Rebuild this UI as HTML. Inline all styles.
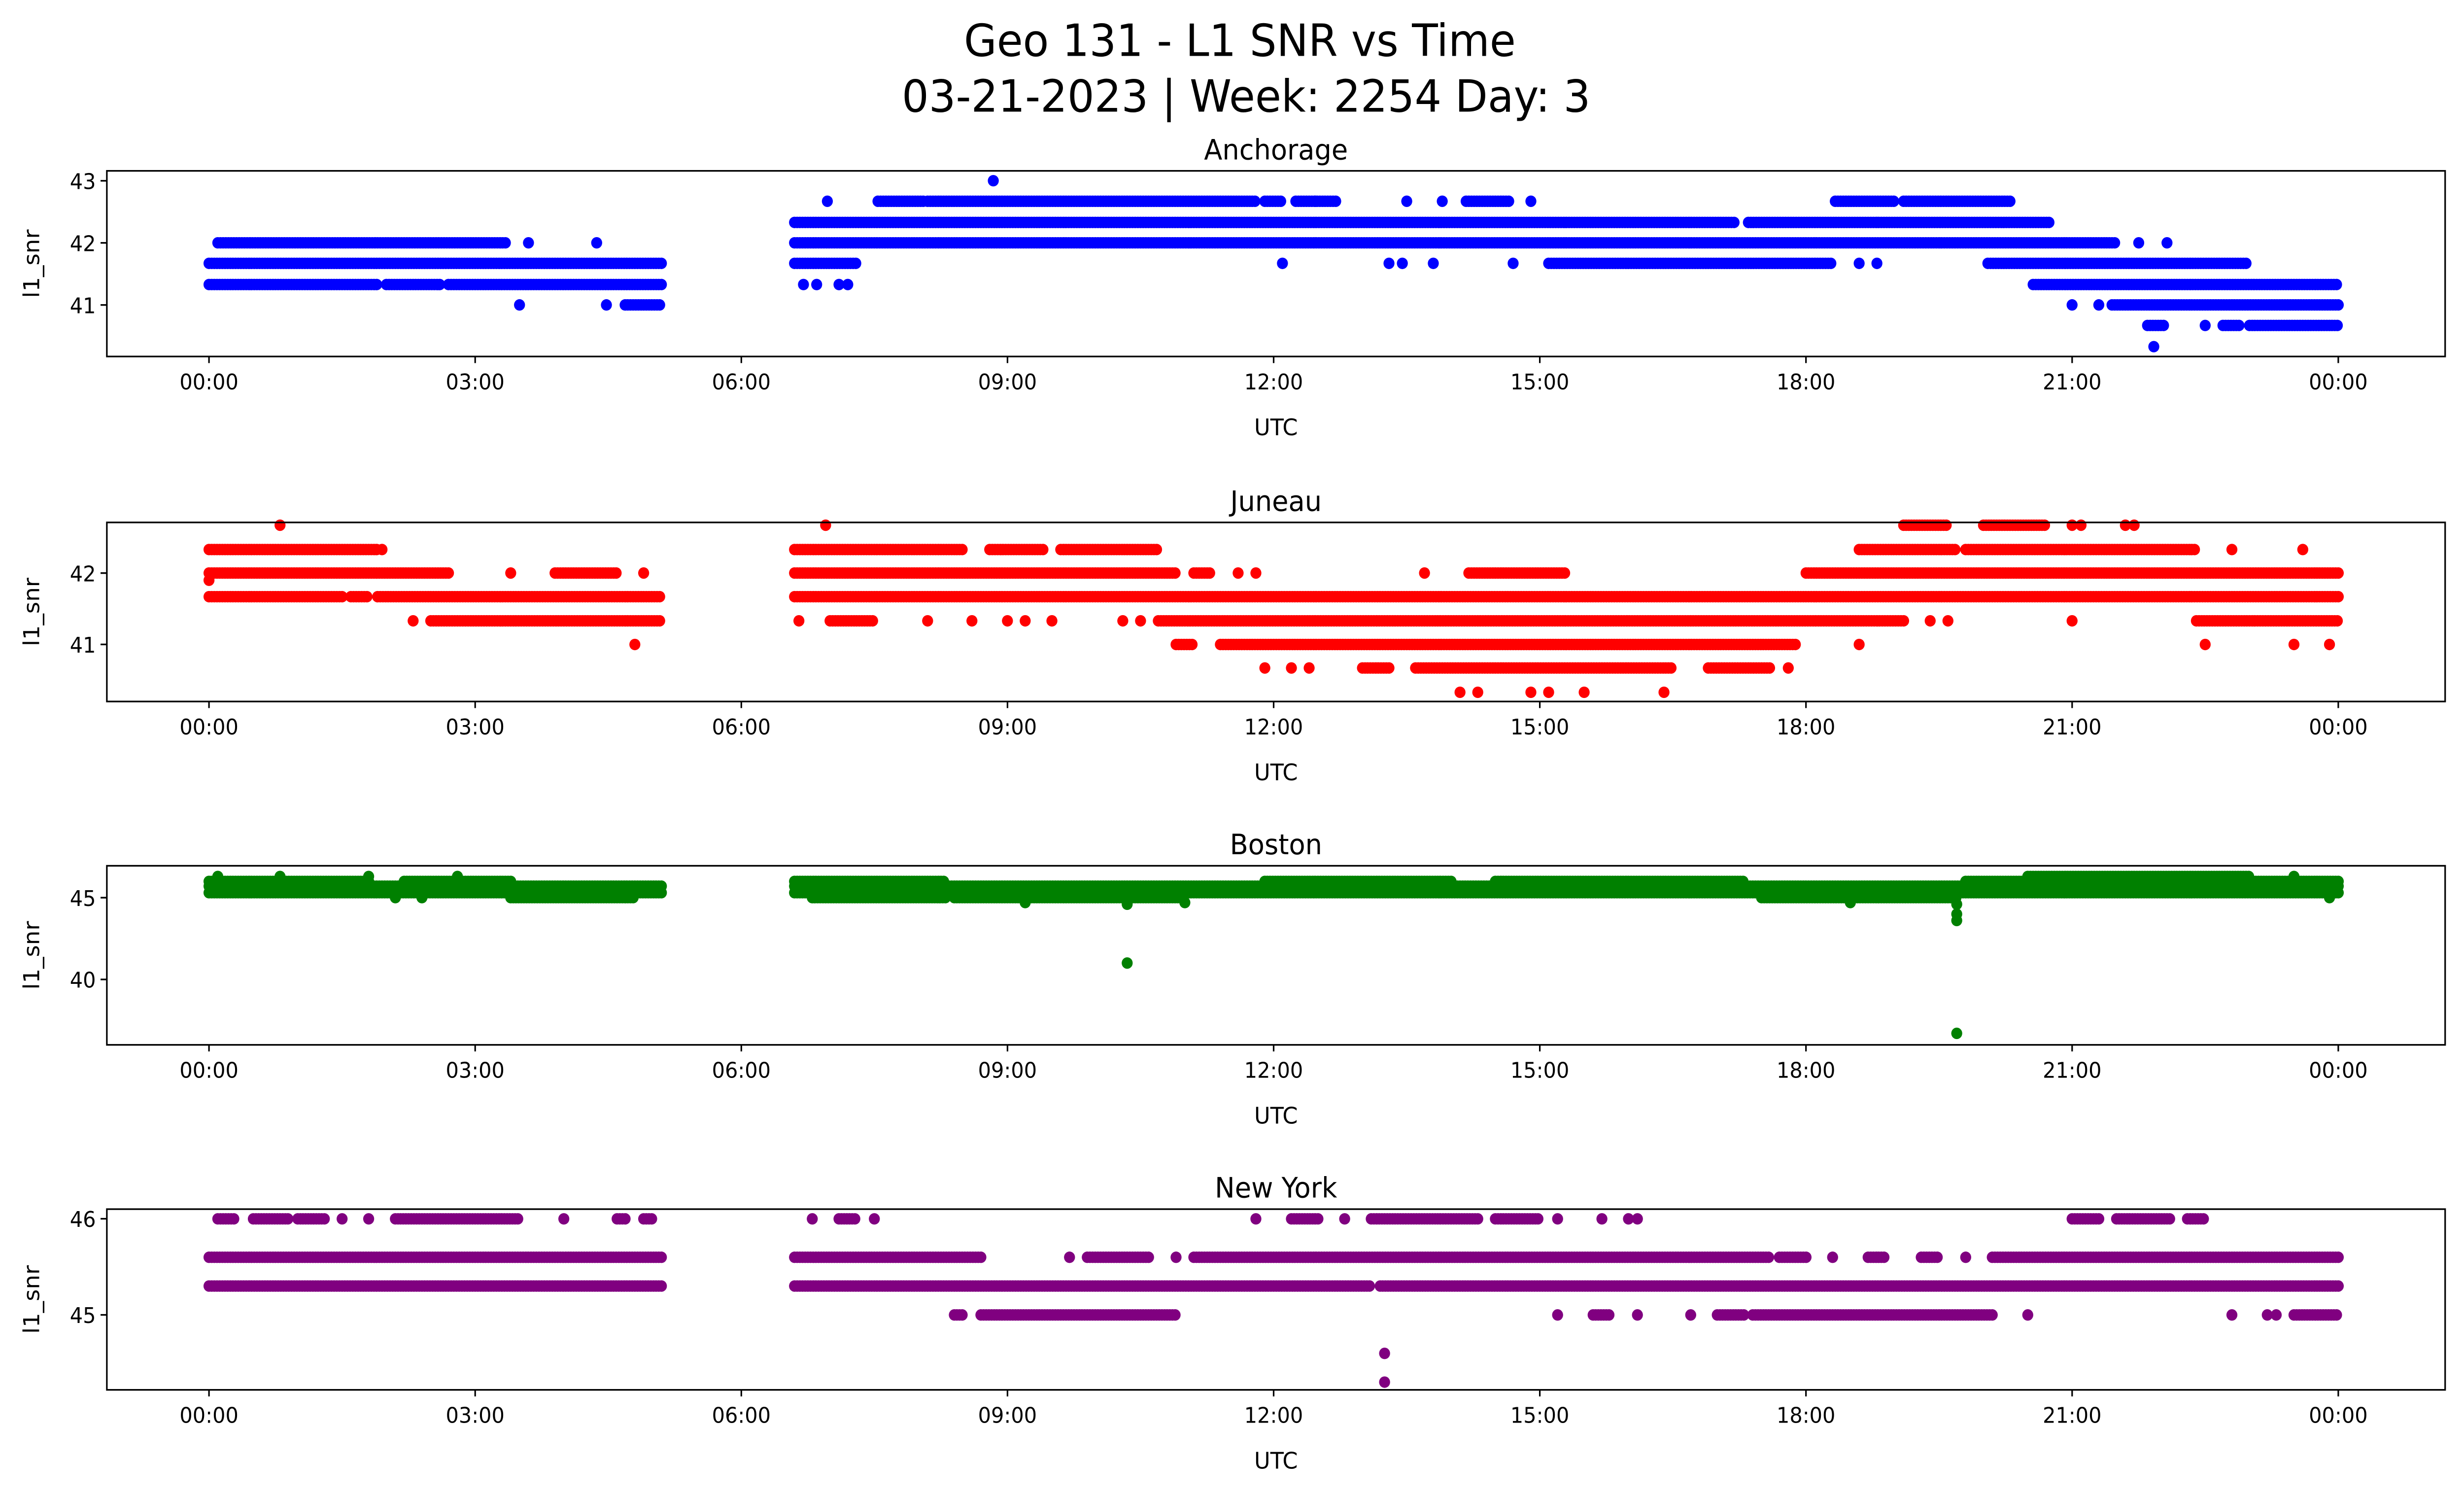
<!DOCTYPE html>
<html><head><meta charset="utf-8"><style>
html,body{margin:0;padding:0;background:#fff;overflow:hidden;width:100%;height:100%;}
svg{display:block;width:100vw;height:100vh;}
text{font-family:"DejaVu Sans","Liberation Sans",sans-serif;fill:#000;}
</style></head><body>
<svg id="fig" xmlns="http://www.w3.org/2000/svg" viewBox="0 0 1568 910" preserveAspectRatio="none">
<rect x="0" y="0" width="1568" height="910" fill="#fff"/>
<text x="789" y="34" font-size="27" text-anchor="middle">Geo 131 - L1 SNR vs Time</text>
<text x="793" y="68" font-size="27" text-anchor="middle">03-21-2023 | Week: 2254 Day: 3</text>
<g id="plots"></g>
</svg>
<script>
// ---------- data (hours UTC, SNR) ----------
const hourTicks = [0,3,6,9,12,15,18,21,24];
const hourTickLabels = ["00:00","03:00","06:00","09:00","12:00","15:00","18:00","21:00","00:00"];
const panelTitles = ["Anchorage","Juneau","Boston","New York"];
const panelColors = ["#0000ff","#ff0000","#008000","#800080"];
const anchorageYTicks = [41,42,43];
const juneauYTicks = [41,42];
const bostonYTicks = [40,45];
const newYorkYTicks = [45,46];
// ranges: [snr, startHour, endHour] of densely sampled points
const anchorageRanges = [
 [42.0,0.1,3.35],[42.0,6.6,21.5],
 [42.33,6.6,17.2],[42.33,17.35,20.75],
 [42.67,7.54,8.07],[42.67,8.1,8.4],[42.67,8.43,11.8],[42.67,11.9,12.1],[42.67,12.25,12.7],[42.67,14.17,14.67],[42.67,18.33,19.0],[42.67,19.1,20.32],
 [41.67,0,5.1],[41.67,6.6,7.3],[41.67,15.1,18.3],[41.67,20.05,22.97],
 [41.33,0,1.9],[41.33,2.0,2.6],[41.33,2.7,5.1],[41.33,20.56,24],
 [41.0,4.69,5.1],[41.0,21.45,24],
 [40.67,21.85,22.05],[40.67,22.7,22.9],[40.67,23.0,24]
];
const anchoragePoints = [
 [42.0,3.6],[42.0,4.37],[42.0,21.75],[42.0,22.07],[43.0,8.84],[42.67,6.97],[42.67,12.47],[42.67,13.5],[42.67,13.9],[42.67,14.9],
 [41.67,12.1],[41.67,13.3],[41.67,13.45],[41.67,13.8],[41.67,14.7],[41.67,18.6],[41.67,18.8],
 [41.33,6.7],[41.33,6.85],[41.33,7.1],[41.33,7.2],[41.0,3.5],[41.0,4.48],[41.0,21.0],[41.0,21.3],[40.67,22.5],[40.33,21.92]
];
const juneauRanges = [
 [42.33,0,1.9],[42.33,6.6,8.5],[42.33,8.8,9.4],[42.33,9.6,10.7],[42.33,18.6,19.7],[42.33,19.8,22.4],
 [42.0,0,2.7],[42.0,3.9,4.6],[42.0,6.6,10.9],[42.0,11.1,11.3],[42.0,14.2,15.3],[42.0,18.0,24],
 [41.67,0,1.5],[41.67,1.6,1.8],[41.67,1.9,5.1],[41.67,6.6,24],
 [41.33,2.5,5.1],[41.33,7.0,7.5],[41.33,10.7,19.1],[41.33,22.4,24],
 [41.0,10.9,11.1],[41.0,11.4,17.9],
 [40.67,13.0,13.3],[40.67,13.6,16.5],[40.67,16.9,17.6],
 [42.67,20.0,20.7],[42.67,19.1,19.6]
];
const juneauPoints = [
 [42.67,0.8],[42.67,6.95],[42.67,21.0],[42.67,21.1],[42.67,21.6],[42.67,21.7],
 [42.33,1.95],[42.33,22.8],[42.33,23.6],[42.0,3.4],[42.0,4.9],[42.0,11.6],[42.0,11.8],[42.0,13.7],
 [41.33,2.3],[41.33,6.65],[41.33,8.1],[41.33,8.6],[41.33,9.0],[41.33,9.2],[41.33,9.5],[41.33,10.3],[41.33,10.5],[41.33,19.4],[41.33,19.6],[41.33,21.0],
 [41.0,4.8],[41.0,18.6],[41.0,22.5],[41.0,23.5],[41.9,0],[41.0,23.9],
 [40.67,11.9],[40.67,12.2],[40.67,12.4],[40.67,17.8],
 [40.33,14.1],[40.33,14.3],[40.33,14.9],[40.33,15.1],[40.33,15.5],[40.33,16.4]
];
const bostonRanges = [
 [45.7,0,5.1],[45.3,0,5.1],[46.0,0,1.8],[46.0,2.2,3.4],[45.0,3.4,4.8],
 [45.7,6.6,24],[45.3,6.6,24],[46.0,6.6,8.3],[45.0,6.8,8.3],[45.0,8.4,11.0],[46.0,11.9,14.0],[46.0,14.5,17.3],[45.0,17.5,19.7],
 [46.0,19.8,24],[46.3,20.5,23.0]
];
const bostonPoints = [
 [46.3,0.1],[46.3,0.8],[46.3,1.8],[46.3,2.8],[45.0,2.1],[45.0,2.4],[44.6,10.35],[41.0,10.35],[44.6,19.7],[44.0,19.7],[43.6,19.7],[36.7,19.7],
 [44.7,9.2],[44.7,11.0],[44.7,18.5],[46.3,23.5],[45.0,23.9]
];
const newYorkRanges = [
 [46.0,0.1,0.3],[46.0,0.5,0.9],[46.0,1.0,1.3],[46.0,2.1,3.5],[46.0,4.6,4.7],[46.0,4.9,5.0],[46.0,7.1,7.3],
 [46.0,12.2,12.5],[46.0,13.1,14.3],[46.0,14.5,15.0],[46.0,21.0,21.3],[46.0,21.5,22.1],[46.0,22.3,22.5],
 [45.6,0,5.1],[45.6,6.6,8.7],[45.6,9.9,10.6],[45.6,11.1,17.6],[45.6,17.7,18.0],[45.6,18.7,18.9],[45.6,19.3,19.5],[45.6,20.1,24],
 [45.3,0,5.1],[45.3,6.6,13.1],[45.3,13.2,24],
 [45.0,8.4,8.5],[45.0,8.7,10.9],[45.0,15.6,15.8],[45.0,17.0,17.3],[45.0,17.4,20.1],[45.0,23.5,24]
];
const newYorkPoints = [
 [46.0,1.5],[46.0,1.8],[46.0,4.0],[46.0,6.8],[46.0,7.5],[46.0,11.8],[46.0,12.8],[46.0,15.2],[46.0,15.7],[46.0,16.0],[46.0,16.1],
 [45.6,9.7],[45.6,10.9],[45.6,18.3],[45.6,19.8],
 [45.0,15.2],[45.0,16.1],[45.0,16.7],[45.0,20.5],[45.0,22.8],[45.0,23.2],[45.0,23.3],
 [44.6,13.25],[44.3,13.25]
];
// ---------- layout ----------
const SVGNS="http://www.w3.org/2000/svg";
const plots=document.getElementById('plots');
const AX_L=68, AX_R=1556, X0=133, X24=1488;
function xScale(h){return X0+(X24-X0)*h/24;}
const panels=[
 {top:104,bottom:217,ymin:40.17,ymax:43.16,ranges:anchorageRanges,points:anchoragePoints,ticks:anchorageYTicks},
 {top:318,bottom:427,ymin:40.2,ymax:42.71,ranges:juneauRanges,points:juneauPoints,ticks:juneauYTicks},
 {top:527,bottom:636,ymin:36.0,ymax:46.95,ranges:bostonRanges,points:bostonPoints,ticks:bostonYTicks},
 {top:736,bottom:846,ymin:44.22,ymax:46.1,ranges:newYorkRanges,points:newYorkPoints,ticks:newYorkYTicks}
];
function mk(tag,attrs,parent){const e=document.createElementNS(SVGNS,tag);for(const k in attrs)e.setAttribute(k,attrs[k]);parent.appendChild(e);return e;}
panels.forEach((p,i)=>{
 const g=mk('g',{},plots);
 
 
 const y=v=>p.bottom-(v-p.ymin)/(p.ymax-p.ymin)*(p.bottom-p.top);
 const col=panelColors[i];
 const marks=mk('g',{fill:col},g);
 
 
 const step=0.03;
 p.ranges.forEach(r=>{
   for(let h=r[1];h<=r[2]+1e-9;h+=step){
     mk('circle',{cx:xScale(h).toFixed(1),cy:y(r[0]).toFixed(1),r:3.5},marks);
   }
 });
 p.points.forEach(pt=>{
   const c=mk('circle',{cx:xScale(pt[1]).toFixed(1),cy:y(pt[0]).toFixed(1),r:3.5},marks);
   
   
 });
 const frame=mk('rect',{x:AX_L,y:p.top,width:AX_R-AX_L,height:p.bottom-p.top,fill:'none',stroke:'#000','stroke-width':1},g);
 
 
 hourTicks.forEach((h,k)=>{
   const x=xScale(h);
   mk('line',{x1:x,x2:x,y1:p.bottom,y2:p.bottom+4,stroke:'#000','stroke-width':1},g);
   const t=mk('text',{x:x,y:p.bottom+20,'font-size':13,'text-anchor':'middle'},g);
   t.textContent=hourTickLabels[k];
   
   
 });
 p.ticks.forEach(v=>{
   const yy=y(v);
   mk('line',{x1:AX_L-4,x2:AX_L,y1:yy,y2:yy,stroke:'#000','stroke-width':1},g);
   const t=mk('text',{x:AX_L-7,y:yy+5,'font-size':13,'text-anchor':'end'},g);
   t.textContent=String(v);
   
   
 });
 const xl=mk('text',{x:812,y:p.bottom+48,'font-size':14,'text-anchor':'middle'},g);
 xl.textContent='UTC';
 
 
 const yc=(p.top+p.bottom)/2;
 const yl=mk('text',{x:25,y:yc,'font-size':14,'text-anchor':'middle',transform:'rotate(-90 25 '+yc+')'},g);
 yl.textContent='l1_snr';
 
 
 const tt=mk('text',{x:812,y:p.top-7,'font-size':17,'text-anchor':'middle'},g);
 tt.textContent=panelTitles[i];
 
 
});
</script>
</body></html>
